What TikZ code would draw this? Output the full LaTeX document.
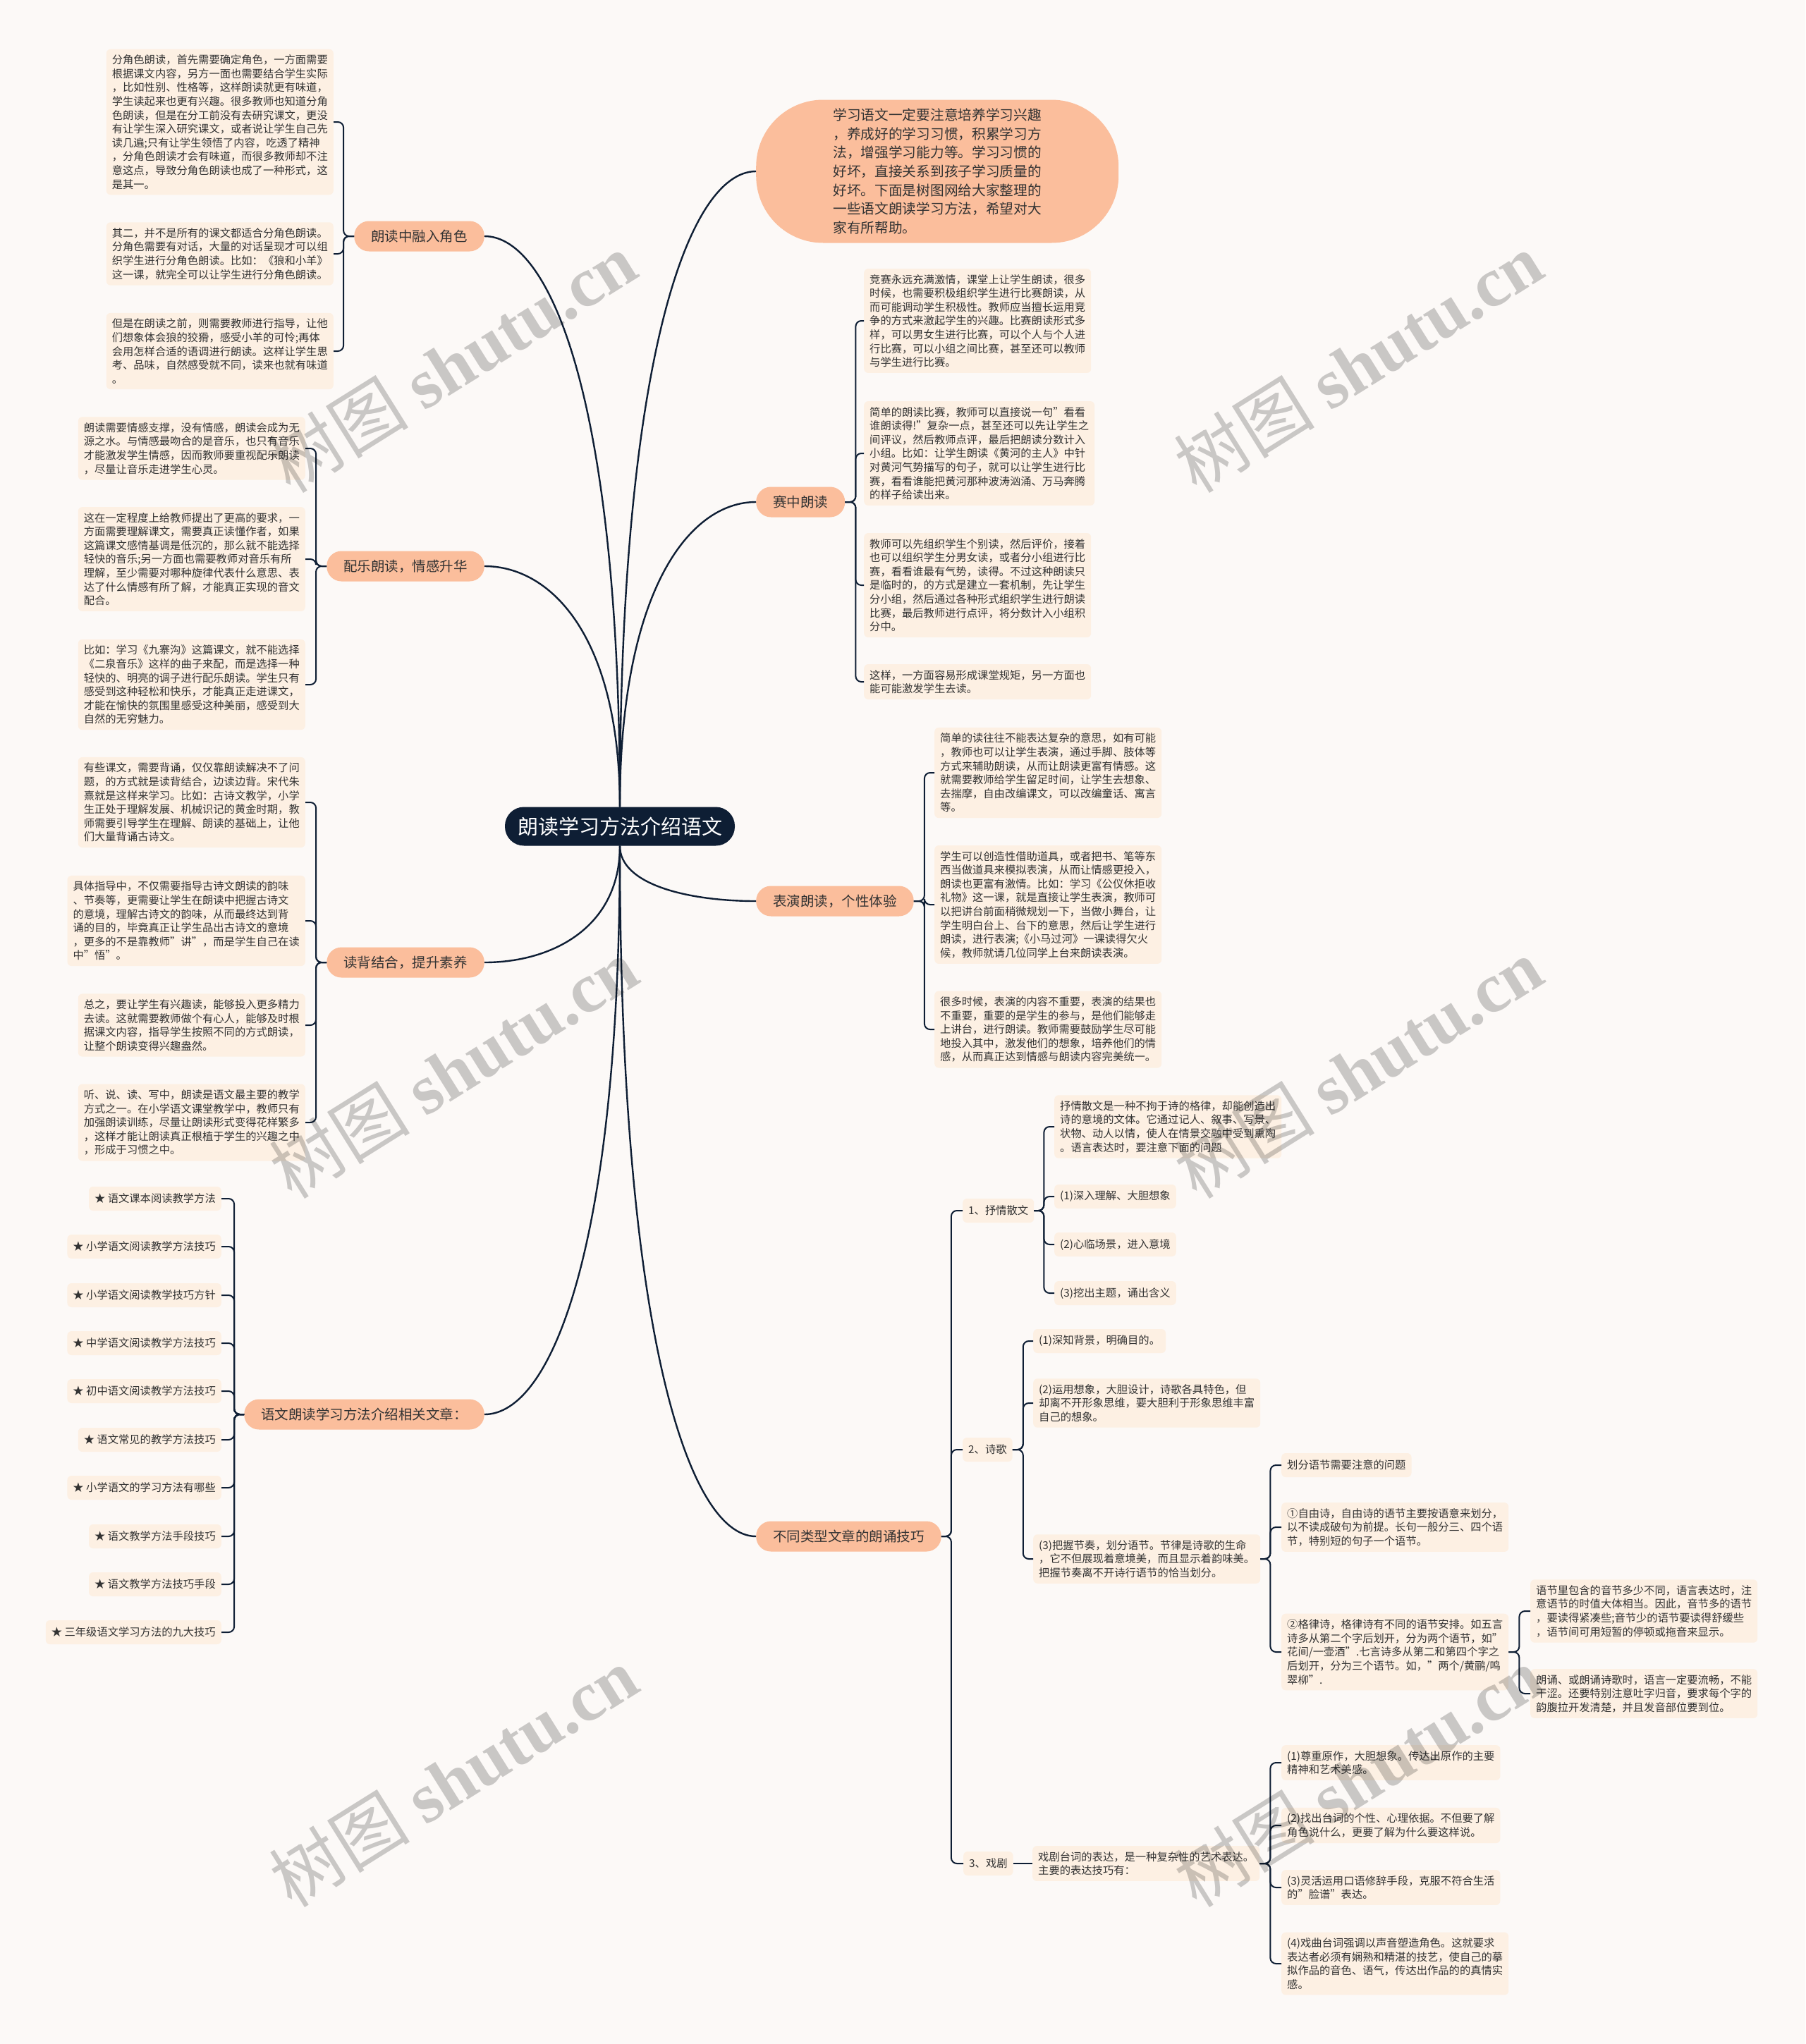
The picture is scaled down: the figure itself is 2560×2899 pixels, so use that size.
\documentclass[tikz,border=0pt]{standalone}
\usepackage{fontspec}
\setmainfont{Noto Sans CJK SC}
\newfontfamily\markfont{Liberation Serif}
\usetikzlibrary{calc,positioning}

\definecolor{ink}{HTML}{0E1E34}
\definecolor{paper}{HTML}{FCF9F7}
\definecolor{peach}{HTML}{FBBE9C}
\definecolor{cream}{HTML}{FDF0E3}
\definecolor{txt}{HTML}{333333}

\begin{document}
\begin{tikzpicture}[x=1pt, y=-1pt,
    leaf/.style={fill=cream, rounded corners=6pt, inner xsep=8pt, inner ysep=8pt,
                 align=left, text=txt, font=\fontsize{15.3}{19.6}\selectfont},
    tag/.style={leaf, minimum height=34pt},
    branch/.style={fill=peach, rounded corners=21pt, minimum height=43pt, inner xsep=24pt,
                   text=txt, font=\fontsize{19.5}{24}\selectfont},
    limb/.style={draw=ink, line width=2.4pt,
                 to path={.. controls ($(\tikztostart)!0.7!(\tikztostart |- \tikztotarget)$)
                          and ($(\tikztotarget)!0.5!(\tikztostart |- \tikztotarget)$) .. (\tikztotarget)}},
    twig/.style={draw=ink, line width=2pt, rounded corners=8pt},
    wmark/.style={text=black, text opacity=0.2, rotate=32, font=\fontsize{100}{100}\selectfont}]

    % Fond
    \useasboundingbox (0,0) rectangle (2560,2899);
    \fill[paper] (0,0) rectangle (2560,2899);

    % Racine
    \node[fill=ink, text=white, rounded corners=27pt, minimum width=326pt, minimum height=55pt,
          font=\fontsize{29}{34}\selectfont] (root) at (879,1172) {朗读学习方法介绍语文};

    % Branches gauche
    \node[branch, anchor=east] (role) at (687,335) {朗读中融入角色};
    \node[branch, anchor=east] (music) at (687,803) {配乐朗读，情感升华};
    \node[branch, anchor=east] (recite) at (687,1365) {读背结合，提升素养};
    \node[branch, anchor=east] (links) at (687,2006) {语文朗读学习方法介绍相关文章：};

    % Branches droite
    \node[fill=peach, rounded corners=95pt, minimum width=514pt, minimum height=203pt, anchor=west,
          align=left, text=txt, font=\fontsize{19.7}{26.7}\selectfont] (intro) at (1072,243)
        {学习语文一定要注意培养学习兴趣\\
         ，养成好的学习习惯，积累学习方\\
         法，增强学习能力等。学习习惯的\\
         好坏，直接关系到孩子学习质量的\\
         好坏。下面是树图网给大家整理的\\
         一些语文朗读学习方法，希望对大\\
         家有所帮助。};
    \node[branch, anchor=west] (race) at (1072,712) {赛中朗读};
    \node[branch, anchor=west] (act) at (1072,1278) {表演朗读，个性体验};
    \node[branch, anchor=west] (genre) at (1072,2179) {不同类型文章的朗诵技巧};

    \draw[limb] (root.north) to (role.east);
    \draw[limb] (root.north) to (music.east);
    \draw[limb] (root.south) to (recite.east);
    \draw[limb] (root.south) to (links.east);
    \draw[limb] (root.north) to (intro.west);
    \draw[limb] (root.north) to (race.west);
    \draw[limb] (root.south) to (act.west);
    \draw[limb] (root.south) to (genre.west);

    %朗读中融入角色
    \node[leaf, anchor=east] (role1) at (473,173)
        {分角色朗读，首先需要确定角色，一方面需要\\
         根据课文内容，另方一面也需要结合学生实际\\
         ，比如性别、性格等，这样朗读就更有味道，\\
         学生读起来也更有兴趣。很多教师也知道分角\\
         色朗读，但是在分工前没有去研究课文，更没\\
         有让学生深入研究课文，或者说让学生自己先\\
         读几遍;只有让学生领悟了内容，吃透了精神\\
         ，分角色朗读才会有味道，而很多教师却不注\\
         意这点，导致分角色朗读也成了一种形式，这\\
         是其一。};
    \node[leaf, anchor=east] (role2) at (473,360)
        {其二，并不是所有的课文都适合分角色朗读。\\
         分角色需要有对话，大量的对话呈现才可以组\\
         织学生进行分角色朗读。比如：《狼和小羊》\\
         这一课，就完全可以让学生进行分角色朗读。};
    \node[leaf, anchor=east] (role3) at (473,498)
        {但是在朗读之前，则需要教师进行指导，让他\\
         们想象体会狼的狡猾，感受小羊的可怜;再体\\
         会用怎样合适的语调进行朗读。这样让学生思\\
         考、品味，自然感受就不同，读来也就有味道\\
         。};
    \draw[twig] (role.west) -- ++(-15,0) |- (role1.east);
    \draw[twig] (role.west) -- ++(-15,0) |- (role2.east);
    \draw[twig] (role.west) -- ++(-15,0) |- (role3.east);

    % 配乐朗读
    \node[leaf, anchor=east] (music1) at (433,636)
        {朗读需要情感支撑，没有情感，朗读会成为无\\
         源之水。与情感最吻合的是音乐，也只有音乐\\
         才能激发学生情感，因而教师要重视配乐朗读\\
         ，尽量让音乐走进学生心灵。};
    \node[leaf, anchor=east] (music2) at (433,793)
        {这在一定程度上给教师提出了更高的要求，一\\
         方面需要理解课文，需要真正读懂作者，如果\\
         这篇课文感情基调是低沉的，那么就不能选择\\
         轻快的音乐;另一方面也需要教师对音乐有所\\
         理解，至少需要对哪种旋律代表什么意思、表\\
         达了什么情感有所了解，才能真正实现的音文\\
         配合。};
    \node[leaf, anchor=east] (music3) at (433,971)
        {比如：学习《九寨沟》这篇课文，就不能选择\\
         《二泉音乐》这样的曲子来配，而是选择一种\\
         轻快的、明亮的调子进行配乐朗读。学生只有\\
         感受到这种轻松和快乐，才能真正走进课文，\\
         才能在愉快的氛围里感受这种美丽，感受到大\\
         自然的无穷魅力。};
    \draw[twig] (music.west) -- ++(-15,0) |- (music1.east);
    \draw[twig] (music.west) -- ++(-15,0) |- (music2.east);
    \draw[twig] (music.west) -- ++(-15,0) |- (music3.east);

    % 读背结合
    \node[leaf, anchor=east] (recite1) at (433,1138)
        {有些课文，需要背诵，仅仅靠朗读解决不了问\\
         题，的方式就是读背结合，边读边背。宋代朱\\
         熹就是这样来学习。比如：古诗文教学，小学\\
         生正处于理解发展、机械识记的黄金时期，教\\
         师需要引导学生在理解、朗读的基础上，让他\\
         们大量背诵古诗文。};
    \node[leaf, anchor=east] (recite2) at (433,1306)
        {具体指导中，不仅需要指导古诗文朗读的韵味\\
         、节奏等，更需要让学生在朗读中把握古诗文\\
         的意境，理解古诗文的韵味，从而最终达到背\\
         诵的目的，毕竟真正让学生品出古诗文的意境\\
         ，更多的不是靠教师"讲"，而是学生自己在读\\
         中"悟"。};
    \node[leaf, anchor=east] (recite3) at (433,1454)
        {总之，要让学生有兴趣读，能够投入更多精力\\
         去读。这就需要教师做个有心人，能够及时根\\
         据课文内容，指导学生按照不同的方式朗读，\\
         让整个朗读变得兴趣盎然。};
    \node[leaf, anchor=east] (recite4) at (433,1592)
        {听、说、读、写中，朗读是语文最主要的教学\\
         方式之一。在小学语文课堂教学中，教师只有\\
         加强朗读训练，尽量让朗读形式变得花样繁多\\
         ，这样才能让朗读真正根植于学生的兴趣之中\\
         ，形成于习惯之中。};
    \draw[twig] (recite.west) -- ++(-15,0) |- (recite1.east);
    \draw[twig] (recite.west) -- ++(-15,0) |- (recite2.east);
    \draw[twig] (recite.west) -- ++(-15,0) |- (recite3.east);
    \draw[twig] (recite.west) -- ++(-15,0) |- (recite4.east);

    % Articles liés
    \node[tag, anchor=east] (link1) at (314,1700) {★ 语文课本阅读教学方法};
    \node[tag, anchor=east] (link2) at (314,1768) {★ 小学语文阅读教学方法技巧};
    \node[tag, anchor=east] (link3) at (314,1837) {★ 小学语文阅读教学技巧方针};
    \node[tag, anchor=east] (link4) at (314,1905) {★ 中学语文阅读教学方法技巧};
    \node[tag, anchor=east] (link5) at (314,1973) {★ 初中语文阅读教学方法技巧};
    \node[tag, anchor=east] (link6) at (314,2042) {★ 语文常见的教学方法技巧};
    \node[tag, anchor=east] (link7) at (314,2110) {★ 小学语文的学习方法有哪些};
    \node[tag, anchor=east] (link8) at (314,2179) {★ 语文教学方法手段技巧};
    \node[tag, anchor=east] (link9) at (314,2247) {★ 语文教学方法技巧手段};
    \node[tag, anchor=east] (link10) at (314,2315) {★ 三年级语文学习方法的九大技巧};
    \draw[twig] (links.west) -- ++(-14,0) |- (link1.east);
    \draw[twig] (links.west) -- ++(-14,0) |- (link2.east);
    \draw[twig] (links.west) -- ++(-14,0) |- (link3.east);
    \draw[twig] (links.west) -- ++(-14,0) |- (link4.east);
    \draw[twig] (links.west) -- ++(-14,0) |- (link5.east);
    \draw[twig] (links.west) -- ++(-14,0) |- (link6.east);
    \draw[twig] (links.west) -- ++(-14,0) |- (link7.east);
    \draw[twig] (links.west) -- ++(-14,0) |- (link8.east);
    \draw[twig] (links.west) -- ++(-14,0) |- (link9.east);
    \draw[twig] (links.west) -- ++(-14,0) |- (link10.east);

    % 赛中朗读
    \node[leaf, anchor=west] (race1) at (1225,455)
        {竞赛永远充满激情，课堂上让学生朗读，很多\\
         时候，也需要积极组织学生进行比赛朗读，从\\
         而可能调动学生积极性。教师应当擅长运用竞\\
         争的方式来激起学生的兴趣。比赛朗读形式多\\
         样，可以男女生进行比赛，可以个人与个人进\\
         行比赛，可以小组之间比赛，甚至还可以教师\\
         与学生进行比赛。};
    \node[leaf, anchor=west] (race2) at (1225,643)
        {简单的朗读比赛，教师可以直接说一句"看看\\
         谁朗读得!"复杂一点，甚至还可以先让学生之\\
         间评议，然后教师点评，最后把朗读分数计入\\
         小组。比如：让学生朗读《黄河的主人》中针\\
         对黄河气势描写的句子，就可以让学生进行比\\
         赛，看看谁能把黄河那种波涛汹涌、万马奔腾\\
         的样子给读出来。};
    \node[leaf, anchor=west] (race3) at (1225,830)
        {教师可以先组织学生个别读，然后评价，接着\\
         也可以组织学生分男女读，或者分小组进行比\\
         赛，看看谁最有气势，读得。不过这种朗读只\\
         是临时的，的方式是建立一套机制，先让学生\\
         分小组，然后通过各种形式组织学生进行朗读\\
         比赛，最后教师进行点评，将分数计入小组积\\
         分中。};
    \node[leaf, anchor=west] (race4) at (1225,967)
        {这样，一方面容易形成课堂规矩，另一方面也\\
         能可能激发学生去读。};
    \draw[twig] (race.east) -- ++(15,0) |- (race1.west);
    \draw[twig] (race.east) -- ++(15,0) |- (race2.west);
    \draw[twig] (race.east) -- ++(15,0) |- (race3.west);
    \draw[twig] (race.east) -- ++(15,0) |- (race4.west);

    % 表演朗读
    \node[leaf, anchor=west] (act1) at (1325,1096)
        {简单的读往往不能表达复杂的意思，如有可能\\
         ，教师也可以让学生表演，通过手脚、肢体等\\
         方式来辅助朗读，从而让朗读更富有情感。这\\
         就需要教师给学生留足时间，让学生去想象、\\
         去揣摩，自由改编课文，可以改编童话、寓言\\
         等。};
    \node[leaf, anchor=west] (act2) at (1325,1283)
        {学生可以创造性借助道具，或者把书、笔等东\\
         西当做道具来模拟表演，从而让情感更投入，\\
         朗读也更富有激情。比如：学习《公仪休拒收\\
         礼物》这一课，就是直接让学生表演，教师可\\
         以把讲台前面稍微规划一下，当做小舞台，让\\
         学生明白台上、台下的意思，然后让学生进行\\
         朗读，进行表演;《小马过河》一课读得欠火\\
         候，教师就请几位同学上台来朗读表演。};
    \node[leaf, anchor=west] (act3) at (1325,1460)
        {很多时候，表演的内容不重要，表演的结果也\\
         不重要，重要的是学生的参与，是他们能够走\\
         上讲台，进行朗读。教师需要鼓励学生尽可能\\
         地投入其中，激发他们的想象，培养他们的情\\
         感，从而真正达到情感与朗读内容完美统一。};
    \draw[twig] (act.east) -- ++(15,0) |- (act1.west);
    \draw[twig] (act.east) -- ++(15,0) |- (act2.west);
    \draw[twig] (act.east) -- ++(15,0) |- (act3.west);

    % 不同类型文章
    \node[tag, anchor=west] (prose) at (1365,1717) {1、抒情散文};
    \node[tag, anchor=west] (poem) at (1365,2056) {2、诗歌};
    \node[tag, anchor=west] (drama) at (1366,2643) {3、戏剧};
    \draw[twig] (genre.east) -- ++(14,0) |- (prose.west);
    \draw[twig] (genre.east) -- ++(14,0) |- (poem.west);
    \draw[twig] (genre.east) -- ++(14,0) |- (drama.west);

    % 抒情散文
    \node[leaf, anchor=west] (prose0) at (1495,1598)
        {抒情散文是一种不拘于诗的格律，却能创造出\\
         诗的意境的文体。它通过记人、叙事、写景、\\
         状物、动人以情，使人在情景交融中受到熏陶\\
         。语言表达时，要注意下面的问题};
    \node[tag, anchor=west] (prose1) at (1495,1697) {(1)深入理解、大胆想象};
    \node[tag, anchor=west] (prose2) at (1495,1765) {(2)心临场景，进入意境};
    \node[tag, anchor=west] (prose3) at (1495,1834) {(3)挖出主题，诵出含义};
    \draw[twig] (prose.east) -- ++(14,0) |- (prose0.west);
    \draw[twig] (prose.east) -- ++(14,0) |- (prose1.west);
    \draw[twig] (prose.east) -- ++(14,0) |- (prose2.west);
    \draw[twig] (prose.east) -- ++(14,0) |- (prose3.west);

    % 诗歌
    \node[tag, anchor=west] (poem1) at (1465,1902) {(1)深知背景，明确目的。};
    \node[leaf, anchor=west] (poem2) at (1465,1990)
        {(2)运用想象，大胆设计，诗歌各具特色，但\\
         却离不开形象思维，要大胆利于形象思维丰富\\
         自己的想象。};
    \node[leaf, anchor=west] (poem3) at (1465,2211)
        {(3)把握节奏，划分语节。节律是诗歌的生命\\
         ，它不但展现着意境美，而且显示着韵味美。\\
         把握节奏离不开诗行语节的恰当划分。};
    \draw[twig] (poem.east) -- ++(15,0) |- (poem1.west);
    \draw[twig] (poem.east) -- ++(15,0) |- (poem2.west);
    \draw[twig] (poem.east) -- ++(15,0) |- (poem3.west);

    \node[tag, anchor=west] (poem31) at (1817,2078) {划分语节需要注意的问题};
    \node[leaf, anchor=west] (poem32) at (1817,2166)
        {①自由诗，自由诗的语节主要按语意来划分，\\
         以不读成破句为前提。长句一般分三、四个语\\
         节，特别短的句子一个语节。};
    \node[leaf, anchor=west] (poem33) at (1817,2343)
        {②格律诗，格律诗有不同的语节安排。如五言\\
         诗多从第二个字后划开，分为两个语节，如"\\
         花间/一壶酒".七言诗多从第二和第四个字之\\
         后划开，分为三个语节。如，"两个/黄鹂/鸣\\
         翠柳".};
    \draw[twig] (poem3.east) -- ++(14,0) |- (poem31.west);
    \draw[twig] (poem3.east) -- ++(14,0) |- (poem32.west);
    \draw[twig] (poem3.east) -- ++(14,0) |- (poem33.west);

    \node[leaf, anchor=west] (poem331) at (2170,2285)
        {语节里包含的音节多少不同，语言表达时，注\\
         意语节的时值大体相当。因此，音节多的语节\\
         ，要读得紧凑些;音节少的语节要读得舒缓些\\
         ，语节间可用短暂的停顿或拖音来显示。};
    \node[leaf, anchor=west] (poem332) at (2170,2402)
        {朗诵、或朗诵诗歌时，语言一定要流畅，不能\\
         干涩。还要特别注意吐字归音，要求每个字的\\
         韵腹拉开发清楚，并且发音部位要到位。};
    \draw[twig] (poem33.east) -- ++(15,0) |- (poem331.west);
    \draw[twig] (poem33.east) -- ++(15,0) |- (poem332.west);

    % 戏剧
    \node[leaf, anchor=west] (drama0) at (1464,2643)
        {戏剧台词的表达，是一种复杂性的艺术表达。\\
         主要的表达技巧有：};
    \draw[twig] (drama.east) -- (drama0.west);
    \node[leaf, anchor=west] (drama1) at (1817,2500)
        {(1)尊重原作，大胆想象。传达出原作的主要\\
         精神和艺术美感。};
    \node[leaf, anchor=west] (drama2) at (1817,2589)
        {(2)找出台词的个性、心理依据。不但要了解\\
         角色说什么，更要了解为什么要这样说。};
    \node[leaf, anchor=west] (drama3) at (1817,2677)
        {(3)灵活运用口语修辞手段，克服不符合生活\\
         的"脸谱"表达。};
    \node[leaf, anchor=west] (drama4) at (1817,2785)
        {(4)戏曲台词强调以声音塑造角色。这就要求\\
         表达者必须有娴熟和精湛的技艺，使自己的摹\\
         拟作品的音色、语气，传达出作品的的真情实\\
         感。};
    \draw[twig] (drama0.east) -- ++(15,0) |- (drama1.west);
    \draw[twig] (drama0.east) -- ++(15,0) |- (drama2.west);
    \draw[twig] (drama0.east) -- ++(15,0) |- (drama3.west);
    \draw[twig] (drama0.east) -- ++(15,0) |- (drama4.west);

    % Filigrane
    \node[wmark] (wm1) at (641,514) {树图 {\markfont\bfseries shutu.cn}};
    \node[wmark] (wm2) at (1926,514) {树图 {\markfont\bfseries shutu.cn}};
    \node[wmark] (wm3) at (643,1515) {树图 {\markfont\bfseries shutu.cn}};
    \node[wmark] (wm4) at (1926,1515) {树图 {\markfont\bfseries shutu.cn}};
    \node[wmark] (wm5) at (643,2520) {树图 {\markfont\bfseries shutu.cn}};
    \node[wmark] (wm6) at (1926,2520) {树图 {\markfont\bfseries shutu.cn}};
\end{tikzpicture}
\end{document}
